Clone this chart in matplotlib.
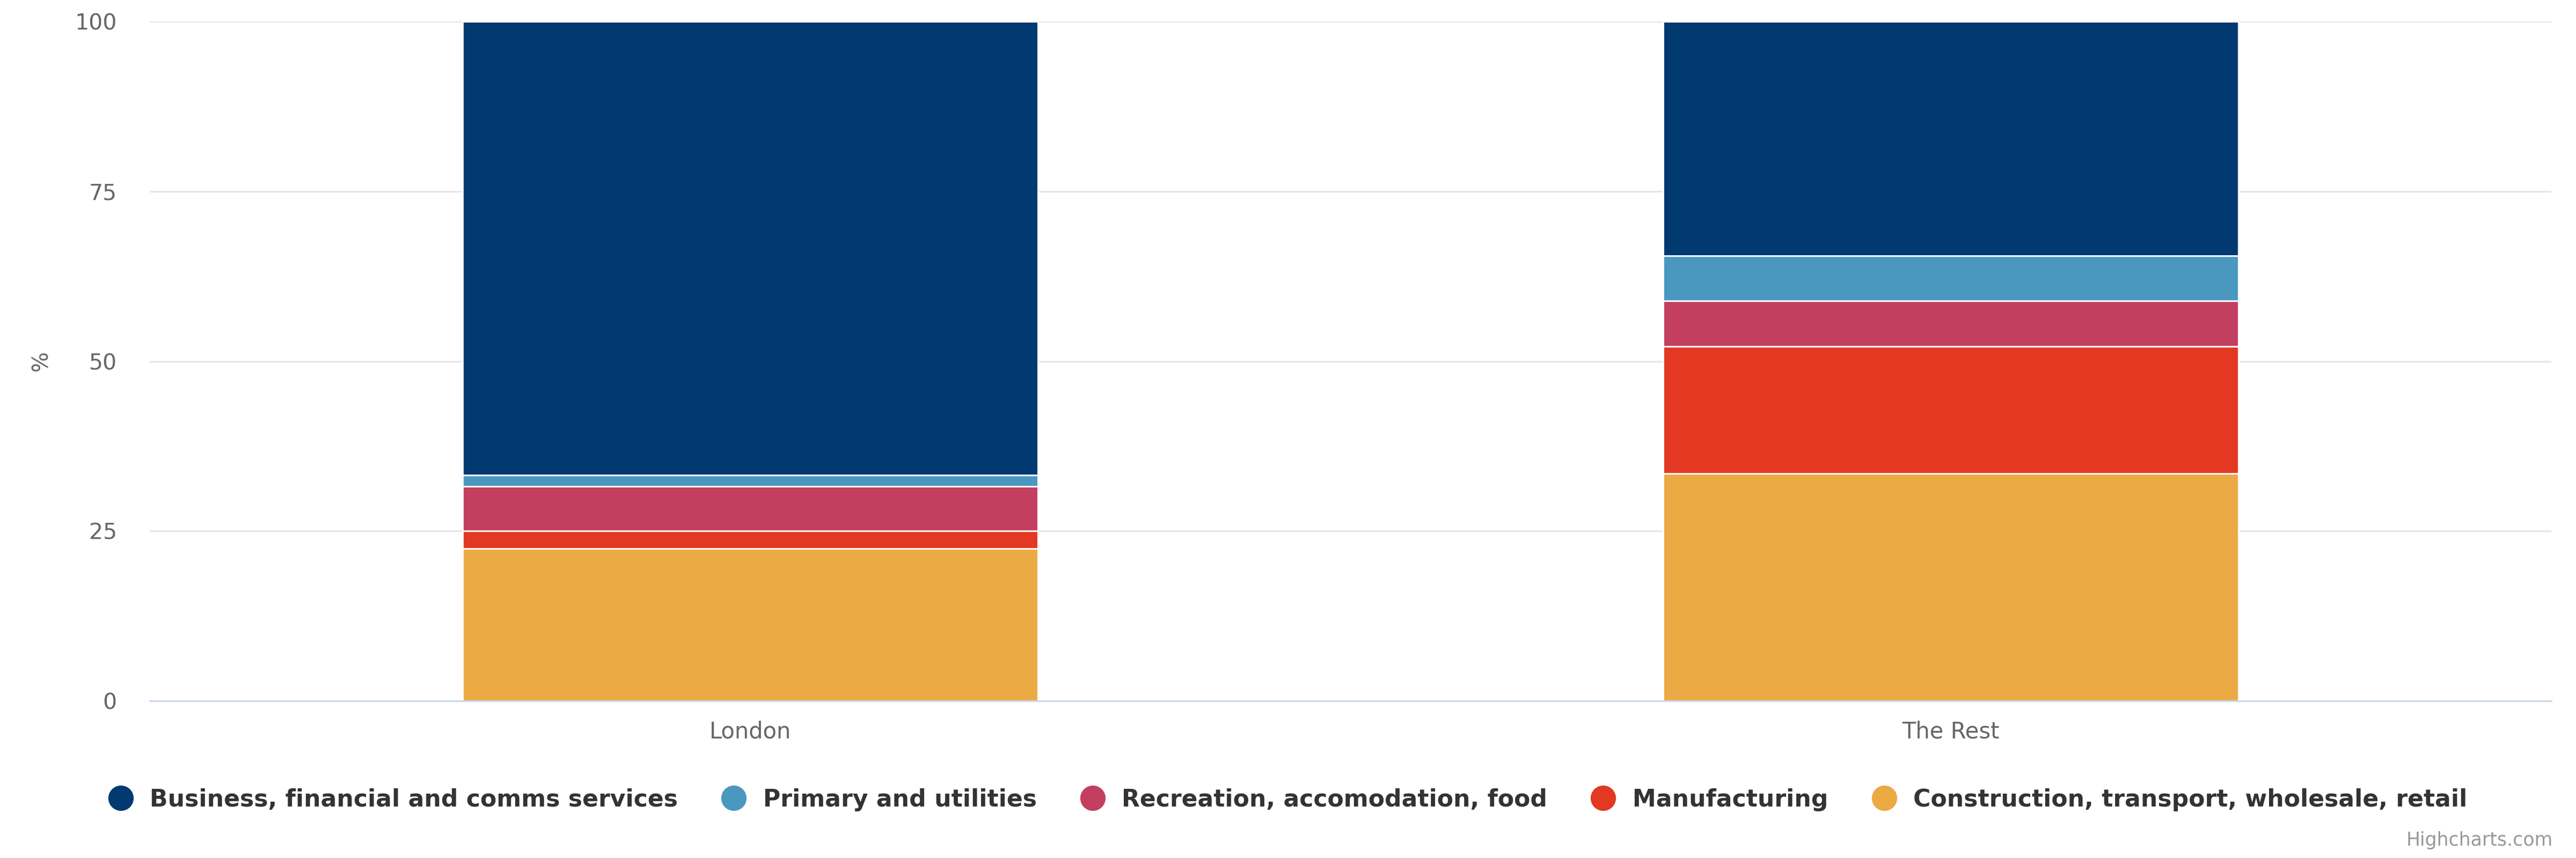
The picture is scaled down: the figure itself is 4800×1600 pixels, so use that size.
import matplotlib
matplotlib.use('Agg')
import matplotlib.pyplot as plt
from matplotlib.lines import Line2D
import numpy as np

plt.rcParams['font.family'] = ['DejaVu Sans']

# data
regions = ['London', 'The Rest']
sectors = ['Business, financial and comms services', 'Primary and utilities',
           'Recreation, accomodation, food', 'Manufacturing',
           'Construction, transport, wholesale, retail']
business = [66.8, 34.5]
primary = [1.6, 6.65]
recreation = [6.6, 6.65]
manufacturing = [2.6, 18.7]
construction = [22.4, 33.5]
colors = ['#003a70', '#4a98c0', '#c43f5f', '#e33822', '#ebaa44']

fig = plt.figure(figsize=(48, 16), dpi=100)
ax = fig.add_axes([0.0581, 0.1831, 0.9323, 0.7919])

x = np.arange(len(regions))
# stack from bottom: construction, manufacturing, recreation, primary, business
stack = [construction, manufacturing, recreation, primary, business]
stack_colors = colors[::-1]
bottom = np.zeros(len(regions))
for vals, c in zip(stack, stack_colors):
    ax.bar(x, vals, width=0.479, bottom=bottom, color=c, edgecolor='white',
           linewidth=2.2, zorder=3)
    bottom += np.array(vals)

ax.set_xlim(-0.5, 1.5)
ax.set_ylim(0, 100)
ax.set_yticks([0, 25, 50, 75, 100])
ax.set_xticks(x)
ax.set_xticklabels(regions)
ax.tick_params(axis='y', length=0, pad=44, labelsize=29.5, labelcolor='#666666')
ax.tick_params(axis='x', length=0, pad=26, labelsize=30, labelcolor='#666666')
ax.grid(axis='y', color='#e6e6e6', linewidth=2.2, zorder=0)
for s in ['top', 'right', 'left']:
    ax.spines[s].set_visible(False)
ax.spines['bottom'].set_color('#ccd6eb')
ax.spines['bottom'].set_linewidth(2.2)
ax.spines['bottom'].set_zorder(4)

fig.text(77 / 4800, 1 - 673 / 1600, '%', rotation=90, ha='center', va='center',
         fontsize=29, color='#666666')

handles = [Line2D([], [], marker='o', linestyle='none', markersize=33,
                  markerfacecolor=c, markeredgecolor=c) for c in colors]
fig.legend(handles, sectors, loc='center', bbox_to_anchor=(0.5, 0.068), ncol=5,
           frameon=False, handlelength=1.0, handletextpad=0.73, columnspacing=1.86,
           prop={'weight': 'bold', 'size': 31.8}, labelcolor='#333333')

fig.text(4757 / 4800, 1 - 1567 / 1600, 'Highcharts.com', ha='right', va='center',
         fontsize=25, color='#999999')

fig.savefig('out.png', dpi=100, facecolor='white')
